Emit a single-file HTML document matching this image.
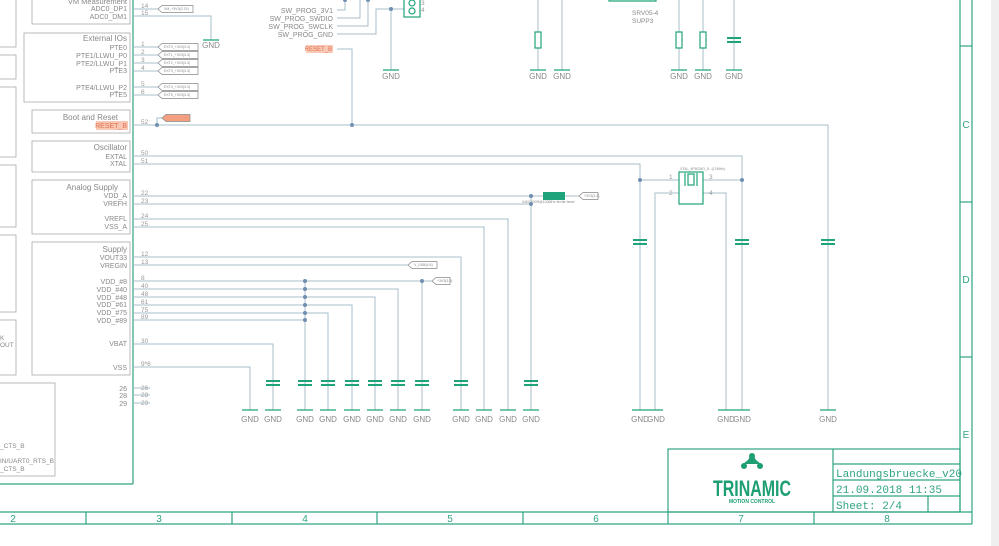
<!DOCTYPE html>
<html><head><meta charset="utf-8"><style>
html,body{margin:0;padding:0;background:#fff;}
svg{display:block;}
text{font-family:"Liberation Sans",sans-serif;}
text.mono{font-family:"Liberation Mono","DejaVu Sans Mono",monospace;}
</style></head><body>
<svg width="999" height="546" viewBox="0 0 999 546" xmlns="http://www.w3.org/2000/svg">
<rect x="991" y="0" width="8" height="546" fill="#efefef"/>
<g stroke="#2fa383" stroke-width="1.2" fill="none">
<line x1="960" y1="0" x2="960" y2="512"/>
<line x1="972" y1="0" x2="972" y2="524"/>
<line x1="0" y1="512" x2="972" y2="512"/>
<line x1="0" y1="524" x2="972" y2="524"/>
<line x1="960" y1="46" x2="972" y2="46"/>
<line x1="960" y1="202" x2="972" y2="202"/>
<line x1="960" y1="357" x2="972" y2="357"/>
<line x1="86" y1="512" x2="86" y2="524"/><line x1="232" y1="512" x2="232" y2="524"/>
<line x1="377" y1="512" x2="377" y2="524"/><line x1="523" y1="512" x2="523" y2="524"/>
<line x1="668" y1="512" x2="668" y2="524"/><line x1="814" y1="512" x2="814" y2="524"/>
<rect x="668" y="449" width="292" height="63"/>
<line x1="833" y1="449" x2="833" y2="512"/>
<line x1="833" y1="464" x2="960" y2="464"/>
<line x1="833" y1="480" x2="960" y2="480"/>
<line x1="833" y1="496" x2="960" y2="496"/>
<line x1="928" y1="496" x2="928" y2="512"/>
<line x1="133" y1="0" x2="133" y2="484"/>
<line x1="0" y1="484" x2="133" y2="484"/>
</g>
<g fill="#2fa383" font-size="10" text-anchor="middle">
<text x="13" y="522">2</text><text x="159" y="522">3</text><text x="305" y="522">4</text>
<text x="450" y="522">5</text><text x="596" y="522">6</text><text x="741" y="522">7</text><text x="887" y="522">8</text>
<text x="966" y="128">C</text><text x="966" y="283">D</text><text x="966" y="438">E</text>
</g>
<g fill="#2fa383" font-size="11">
<text class="mono" x="836" y="477" textLength="126" lengthAdjust="spacingAndGlyphs">Landungsbruecke_v20</text>
<text class="mono" x="836" y="493" textLength="106" lengthAdjust="spacingAndGlyphs">21.09.2018 11:35</text>
<text class="mono" x="836" y="509" textLength="66" lengthAdjust="spacingAndGlyphs">Sheet: 2/4</text>
</g>
<g fill="#1e9e73">
<path d="M752 453 l-4 7 l-5 4 h18 l-5 -4 z"/>
<circle cx="752" cy="456" r="3"/><circle cx="744" cy="466" r="3"/><circle cx="760" cy="466" r="3"/>
<text x="752" y="496" font-size="22" font-weight="bold" text-anchor="middle" textLength="78" lengthAdjust="spacingAndGlyphs">TRINAMIC</text>
<text x="752" y="503" font-size="5" font-weight="bold" text-anchor="middle">MOTION CONTROL</text>
</g>
<g stroke="#aaa" stroke-width="0.8" fill="none">
<rect x="32" y="-5" width="98" height="29"/>
<rect x="24" y="33" width="106" height="69"/>
<rect x="32" y="110" width="98" height="23"/>
<rect x="32" y="141" width="98" height="31"/>
<rect x="32" y="180" width="98" height="54"/>
<rect x="32" y="242" width="98" height="133"/>
<rect x="-5" y="-5" width="21" height="52"/><rect x="-5" y="55" width="21" height="24"/>
<rect x="-5" y="87" width="21" height="70"/><rect x="-5" y="165" width="21" height="62"/>
<rect x="-5" y="235" width="21" height="77"/><rect x="-5" y="320" width="21" height="55"/>
<rect x="-5" y="383" width="60" height="93"/>
</g>
<g fill="#888" font-size="7" text-anchor="end">
<text x="127" y="4" font-size="7.5">VM Measurement</text>
<text x="127" y="11">ADC0_DP1</text><text x="127" y="19">ADC0_DM1</text>
<text x="127" y="41" font-size="8">External IOs</text>
<text x="127" y="50">PTE0</text><text x="127" y="58">PTE1/LLWU_P0</text><text x="127" y="66">PTE2/LLWU_P1</text><text x="127" y="73">PTE3</text>
<text x="127" y="90">PTE4/LLWU_P2</text><text x="127" y="97">PTE5</text>
<text x="118" y="120" font-size="8">Boot and Reset</text>
<text x="127" y="150" font-size="8">Oscillator</text>
<text x="127" y="159">EXTAL</text><text x="127" y="166">XTAL</text>
<text x="118" y="190" font-size="8">Analog Supply</text>
<text x="127" y="198">VDD_A</text><text x="127" y="206">VREFH</text>
<text x="127" y="221">VREFL</text><text x="127" y="229">VSS_A</text>
<text x="127" y="252" font-size="8">Supply</text>
<text x="127" y="260">VOUT33</text><text x="127" y="268">VREGIN</text>
<text x="127" y="284">VDD_#8</text><text x="127" y="292">VDD_#40</text><text x="127" y="300">VDD_#48</text>
<text x="127" y="307">VDD_#61</text><text x="127" y="315">VDD_#75</text><text x="127" y="323">VDD_#89</text>
<text x="127" y="346">VBAT</text><text x="127" y="370">VSS</text>
<text x="127" y="391">26</text><text x="127" y="398">28</text><text x="127" y="406">29</text>
<text x="333" y="13">SW_PROG_3V1</text><text x="333" y="21">SW_PROG_SWDIO</text>
<text x="333" y="29">SW_PROG_SWCLK</text><text x="333" y="37">SW_PROG_GND</text>
</g>
<g fill="#888" font-size="6.5">
<text x="0" y="340">K</text><text x="0" y="347">OUT</text>
<text x="0" y="448">_CTS_B</text><text x="0" y="463">IN/UART0_RTS_B</text><text x="0" y="471">_CTS_B</text>
<text x="632" y="15">SRV05-4</text><text x="632" y="23">SUPP3</text>
</g>
<rect x="96" y="121" width="32" height="9" fill="#f8c8b4"/>
<text x="127" y="128" fill="#e07050" font-size="7" text-anchor="end">RESET_B</text>
<rect x="306" y="45" width="27" height="8" fill="#f8c8b4"/>
<text x="332" y="51" fill="#e07050" font-size="6" text-anchor="end">RESET_B</text>
<g fill="#999" font-size="6.5">
<text x="141" y="8">14</text><text x="141" y="15">15</text>
<text x="141" y="46">1</text><text x="141" y="54">2</text><text x="141" y="62">3</text><text x="141" y="70">4</text>
<text x="141" y="86">5</text><text x="141" y="94">6</text>
<text x="141" y="124">52</text><text x="141" y="155">50</text><text x="141" y="163">51</text>
<text x="141" y="195">22</text><text x="141" y="203">23</text><text x="141" y="218">24</text><text x="141" y="226">25</text>
<text x="141" y="256">12</text><text x="141" y="264">13</text>
<text x="141" y="280">8</text><text x="141" y="288">40</text><text x="141" y="296">48</text><text x="141" y="304">61</text><text x="141" y="312">75</text><text x="141" y="319">89</text>
<text x="141" y="343">30</text><text x="141" y="366">9*6</text>
<text x="141" y="390">26</text><text x="141" y="397">28</text><text x="141" y="405">29</text>
<text x="669" y="179">1</text><text x="669" y="195">2</text><text x="709" y="179">3</text><text x="709" y="195">4</text>
<text x="421" y="5">3</text><text x="421" y="12">4</text>
</g>
<g stroke="#a7bccb" stroke-width="1" fill="none">
<path d="M133 9H158"/><path d="M133 16H211V40"/>
<path d="M133 47H158M133 55H158M133 63H158M133 71H158M133 87H158M133 95H158"/>
<path d="M133 125H828V410"/><path d="M157 125V118H162"/>
<path d="M133 156H742V410"/><path d="M133 164H640V410"/>
<path d="M640 180H679M703 180H742"/><path d="M679 193H655V410M703 193H726V410"/>
<path d="M133 196H543M565 196H579"/><path d="M133 204H531"/><path d="M531 196V410"/>
<path d="M133 219H508V410"/><path d="M133 227H484V410"/>
<path d="M133 257H461V410"/><path d="M133 265H408"/>
<path d="M133 281H422V410M422 281H432"/>
<path d="M133 289H398V410"/><path d="M133 297H375V410"/><path d="M133 305H352V410"/>
<path d="M133 313H328V410"/><path d="M133 320H305"/><path d="M305 281V410"/>
<path d="M133 344H273V410"/><path d="M133 367H250V410"/>
<path d="M133 388H150M133 395H150M133 403H150"/>
<path d="M337 10H345V0M337 18H360V0M337 26H368V0M337 34H376V9H404M391 9V70"/>
<path d="M337 49H352V125"/>
<path d="M538 0V70M562 0V70M679 0V70M703 0V70M734 0V70"/>
</g>
<g fill="#6f8fb0">
<circle cx="157" cy="125" r="2"/><circle cx="352" cy="125" r="2"/>
<circle cx="640" cy="180" r="2"/><circle cx="742" cy="180" r="2"/>
<circle cx="531" cy="196" r="2"/><circle cx="531" cy="204" r="2"/>
<circle cx="305" cy="281" r="2"/><circle cx="305" cy="289" r="2"/><circle cx="305" cy="297" r="2"/>
<circle cx="305" cy="305" r="2"/><circle cx="305" cy="313" r="2"/><circle cx="305" cy="320" r="2"/>
<circle cx="422" cy="281" r="2"/><circle cx="391" cy="9" r="2"/><circle cx="345" cy="0" r="2"/><circle cx="368" cy="0" r="2"/>
</g>
<g stroke="#888" stroke-width="0.7" fill="#fff">
<path d="M158 9l4-3.5h31v7h-31z"/>
<path d="M158 47l4-3.5h36v7h-36z"/><path d="M158 55l4-3.5h36v7h-36z"/><path d="M158 63l4-3.5h36v7h-36z"/>
<path d="M158 71l4-3.5h36v7h-36z"/><path d="M158 87l4-3.5h36v7h-36z"/><path d="M158 95l4-3.5h36v7h-36z"/>
<path d="M579 196l4-3.5h15v7h-15z"/><path d="M408 265l4-3.5h25v7h-25z"/><path d="M432 281l4-3.5h14v7h-14z"/>
<path d="M162 118l4-3.5h24v7h-24z" fill="#f4a080"/>
</g>
<g fill="#888" font-size="3.5">
<text x="164" y="10">VM_+3V3(0.76)</text>
<text x="164" y="48">EXT0_+3V3(3.4)</text><text x="164" y="56">EXT1_+3V3(3.3)</text><text x="164" y="64">EXT2_+3V3(3.3)</text>
<text x="164" y="72">EXT3_+3V3(3.3)</text><text x="164" y="88">EXT4_+3V3(3.3)</text><text x="164" y="96">EXT5_+3V3(3.3)</text>
<text x="584" y="197">+3V3(3.3)</text><text x="414" y="266">V_USB(4.5)</text><text x="437" y="282">+3V3(3.3)</text>
<text x="522" y="203">0402 600R@100MHz ferrite bead</text>
<text x="680" y="170">XTAL_4P8CMO_8...(12MHz)</text>
</g>
<rect x="543" y="192" width="22" height="8" fill="#1fa37a"/>
<g stroke="#1fa37a" stroke-width="1.2" fill="none">
<rect x="679" y="172" width="24" height="32"/><rect x="688" y="174" width="6" height="11"/>
<line x1="685" y1="173" x2="685" y2="186"/><line x1="697" y1="173" x2="697" y2="186"/>
<rect x="404" y="-3" width="16" height="20"/><circle cx="412" cy="3" r="3"/><circle cx="412" cy="11" r="3"/>
<path d="M609 -2V1H656V-2"/>
<rect x="535" y="32" width="6" height="16" fill="#fff"/><rect x="676" y="32" width="6" height="16" fill="#fff"/><rect x="700" y="32" width="6" height="16" fill="#fff"/>
</g>
<g stroke="#1fa37a" stroke-width="2">
<path d="M266 381h14M266 385h14M298 381h14M298 385h14M321 381h14M321 385h14M345 381h14M345 385h14M368 381h14M368 385h14M391 381h14M391 385h14M415 381h14M415 385h14M454 381h14M454 385h14M524 381h14M524 385h14"/>
<path d="M633 240h14M633 244h14M735 240h14M735 244h14M821 240h14M821 244h14M727 38h14M727 42h14"/>
</g>
<g stroke="#1fa37a" stroke-width="1.2">
<path d="M242 410h16M265 410h16M297 410h16M320 410h16M344 410h16M367 410h16M390 410h16M414 410h16M453 410h16M476 410h16M500 410h16M523 410h16M632 410h16M647 410h16M718 410h16M734 410h16M820 410h16"/>
<path d="M203 40h16M383 70h16M530 70h16M554 70h16M671 70h16M695 70h16M726 70h16"/>
</g>
<g fill="#888" font-size="8" text-anchor="middle">
<text x="250" y="422">GND</text><text x="273" y="422">GND</text><text x="305" y="422">GND</text><text x="328" y="422">GND</text>
<text x="352" y="422">GND</text><text x="375" y="422">GND</text><text x="398" y="422">GND</text><text x="422" y="422">GND</text>
<text x="461" y="422">GND</text><text x="484" y="422">GND</text><text x="508" y="422">GND</text><text x="531" y="422">GND</text>
<text x="640" y="422">GND</text><text x="656" y="422">GND</text><text x="726" y="422">GND</text><text x="742" y="422">GND</text>
<text x="828" y="422">GND</text>
<text x="211" y="48">GND</text><text x="391" y="79">GND</text><text x="538" y="79">GND</text><text x="562" y="79">GND</text>
<text x="679" y="79">GND</text><text x="703" y="79">GND</text><text x="734" y="79">GND</text>
</g>
</svg>
</body></html>
